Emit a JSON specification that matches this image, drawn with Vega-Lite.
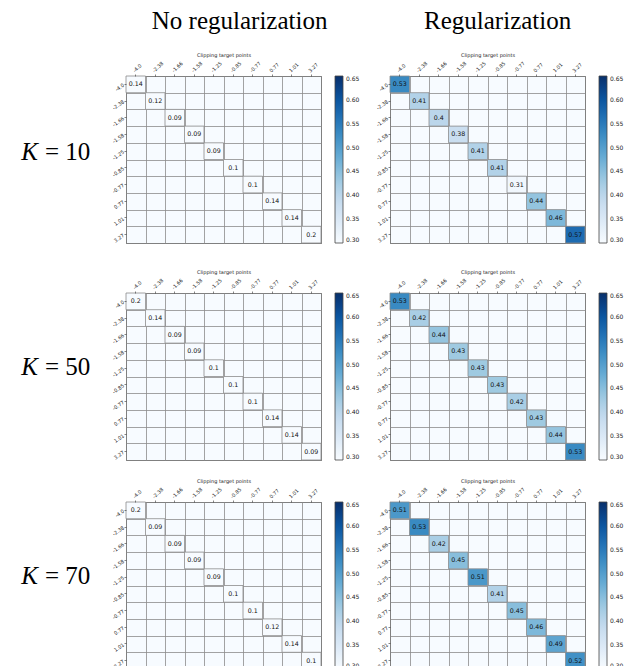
{
  "$schema": "https://vega.github.io/schema/vega-lite/v6.json",
  "background": "white",
  "padding": {"top": 8, "left": 0, "right": 0, "bottom": 0},
  "datasets": {
    "cells": [
      {"K": 10, "reg": "no", "x": "-4.0", "y": "-4.0", "v": 0.14},
      {"K": 10, "reg": "no", "x": "-2.38", "y": "-2.38", "v": 0.12},
      {"K": 10, "reg": "no", "x": "-1.66", "y": "-1.66", "v": 0.09},
      {"K": 10, "reg": "no", "x": "-1.58", "y": "-1.58", "v": 0.09},
      {"K": 10, "reg": "no", "x": "-1.25", "y": "-1.25", "v": 0.09},
      {"K": 10, "reg": "no", "x": "-0.85", "y": "-0.85", "v": 0.1},
      {"K": 10, "reg": "no", "x": "-0.77", "y": "-0.77", "v": 0.1},
      {"K": 10, "reg": "no", "x": "0.77", "y": "0.77", "v": 0.14},
      {"K": 10, "reg": "no", "x": "1.01", "y": "1.01", "v": 0.14},
      {"K": 10, "reg": "no", "x": "3.27", "y": "3.27", "v": 0.2},
      {"K": 10, "reg": "yes", "x": "-4.0", "y": "-4.0", "v": 0.53},
      {"K": 10, "reg": "yes", "x": "-2.38", "y": "-2.38", "v": 0.41},
      {"K": 10, "reg": "yes", "x": "-1.66", "y": "-1.66", "v": 0.4},
      {"K": 10, "reg": "yes", "x": "-1.58", "y": "-1.58", "v": 0.38},
      {"K": 10, "reg": "yes", "x": "-1.25", "y": "-1.25", "v": 0.41},
      {"K": 10, "reg": "yes", "x": "-0.85", "y": "-0.85", "v": 0.41},
      {"K": 10, "reg": "yes", "x": "-0.77", "y": "-0.77", "v": 0.31},
      {"K": 10, "reg": "yes", "x": "0.77", "y": "0.77", "v": 0.44},
      {"K": 10, "reg": "yes", "x": "1.01", "y": "1.01", "v": 0.46},
      {"K": 10, "reg": "yes", "x": "3.27", "y": "3.27", "v": 0.57},
      {"K": 50, "reg": "no", "x": "-4.0", "y": "-4.0", "v": 0.2},
      {"K": 50, "reg": "no", "x": "-2.38", "y": "-2.38", "v": 0.14},
      {"K": 50, "reg": "no", "x": "-1.66", "y": "-1.66", "v": 0.09},
      {"K": 50, "reg": "no", "x": "-1.58", "y": "-1.58", "v": 0.09},
      {"K": 50, "reg": "no", "x": "-1.25", "y": "-1.25", "v": 0.1},
      {"K": 50, "reg": "no", "x": "-0.85", "y": "-0.85", "v": 0.1},
      {"K": 50, "reg": "no", "x": "-0.77", "y": "-0.77", "v": 0.1},
      {"K": 50, "reg": "no", "x": "0.77", "y": "0.77", "v": 0.14},
      {"K": 50, "reg": "no", "x": "1.01", "y": "1.01", "v": 0.14},
      {"K": 50, "reg": "no", "x": "3.27", "y": "3.27", "v": 0.09},
      {"K": 50, "reg": "yes", "x": "-4.0", "y": "-4.0", "v": 0.53},
      {"K": 50, "reg": "yes", "x": "-2.38", "y": "-2.38", "v": 0.42},
      {"K": 50, "reg": "yes", "x": "-1.66", "y": "-1.66", "v": 0.44},
      {"K": 50, "reg": "yes", "x": "-1.58", "y": "-1.58", "v": 0.43},
      {"K": 50, "reg": "yes", "x": "-1.25", "y": "-1.25", "v": 0.43},
      {"K": 50, "reg": "yes", "x": "-0.85", "y": "-0.85", "v": 0.43},
      {"K": 50, "reg": "yes", "x": "-0.77", "y": "-0.77", "v": 0.42},
      {"K": 50, "reg": "yes", "x": "0.77", "y": "0.77", "v": 0.43},
      {"K": 50, "reg": "yes", "x": "1.01", "y": "1.01", "v": 0.44},
      {"K": 50, "reg": "yes", "x": "3.27", "y": "3.27", "v": 0.53},
      {"K": 70, "reg": "no", "x": "-4.0", "y": "-4.0", "v": 0.2},
      {"K": 70, "reg": "no", "x": "-2.38", "y": "-2.38", "v": 0.09},
      {"K": 70, "reg": "no", "x": "-1.66", "y": "-1.66", "v": 0.09},
      {"K": 70, "reg": "no", "x": "-1.58", "y": "-1.58", "v": 0.09},
      {"K": 70, "reg": "no", "x": "-1.25", "y": "-1.25", "v": 0.09},
      {"K": 70, "reg": "no", "x": "-0.85", "y": "-0.85", "v": 0.1},
      {"K": 70, "reg": "no", "x": "-0.77", "y": "-0.77", "v": 0.1},
      {"K": 70, "reg": "no", "x": "0.77", "y": "0.77", "v": 0.12},
      {"K": 70, "reg": "no", "x": "1.01", "y": "1.01", "v": 0.14},
      {"K": 70, "reg": "no", "x": "3.27", "y": "3.27", "v": 0.1},
      {"K": 70, "reg": "yes", "x": "-4.0", "y": "-4.0", "v": 0.51},
      {"K": 70, "reg": "yes", "x": "-2.38", "y": "-2.38", "v": 0.53},
      {"K": 70, "reg": "yes", "x": "-1.66", "y": "-1.66", "v": 0.42},
      {"K": 70, "reg": "yes", "x": "-1.58", "y": "-1.58", "v": 0.45},
      {"K": 70, "reg": "yes", "x": "-1.25", "y": "-1.25", "v": 0.51},
      {"K": 70, "reg": "yes", "x": "-0.85", "y": "-0.85", "v": 0.41},
      {"K": 70, "reg": "yes", "x": "-0.77", "y": "-0.77", "v": 0.45},
      {"K": 70, "reg": "yes", "x": "0.77", "y": "0.77", "v": 0.46},
      {"K": 70, "reg": "yes", "x": "1.01", "y": "1.01", "v": 0.49},
      {"K": 70, "reg": "yes", "x": "3.27", "y": "3.27", "v": 0.52}
    ],
    "rowlabels": [
      {"K": 10, "sym": "K", "rest": "= 10"},
      {"K": 50, "sym": "K", "rest": "= 50"},
      {"K": 70, "sym": "K", "rest": "= 70"}
    ]
  },
  "config": {
    "view": {"stroke": null},
    "axis": {"labelFont": "DejaVu Sans", "titleFont": "DejaVu Sans", "labelColor": "#222", "titleColor": "#222"},
    "legend": {"labelFont": "DejaVu Sans"},
    "text": {"font": "DejaVu Sans"}
  },
  "spacing": 23,
  "resolve": {"scale": {"color": "independent"}, "legend": {"color": "independent"}},
  "vconcat": [
    {
      "bounds": "flush",
      "spacing": 44,
      "resolve": {"scale": {"color": "independent"}, "legend": {"color": "independent"}},
      "hconcat": [
        {
          "width": 82, "height": 167,
          "data": {"name": "rowlabels"},
          "transform": [{"filter": "datum.K == 10"}],
          "layer": [
            {"mark": {"type": "text", "align": "right", "dx": -3, "dy": -8, "baseline": "middle", "font": "Liberation Serif", "fontSize": 25, "fontStyle": "italic", "color": "black"}, "encoding": {"text": {"field": "sym"}}},
            {"mark": {"type": "text", "align": "left", "dx": 4, "dy": -8, "baseline": "middle", "font": "Liberation Serif", "fontSize": 25, "color": "black"}, "encoding": {"text": {"field": "rest"}}}
          ]
        },
        {
          "bounds": "flush",
          "spacing": 69,
          "resolve": {"scale": {"color": "independent"}, "legend": {"color": "independent"}},
          "hconcat": [
            {
              "width": 195, "height": 167,
              "title": {"text": "No regularization", "font": "Liberation Serif", "fontSize": 25, "fontWeight": "normal", "color": "black", "offset": 18, "anchor": "middle", "frame": "bounds", "dx": 4},
              "view": {"fill": "#f7fbff", "stroke": "#555", "strokeWidth": 1},
              "data": {"name": "cells"},
              "transform": [{"filter": "datum.K == 10 && datum.reg == 'no'"}],
              "layer": [
                {"mark": {"type": "rect", "stroke": "#8c8c8c", "strokeWidth": 0.8},
                 "encoding": {
                   "x": {"field": "x", "type": "nominal", "sort": null, "scale": {"paddingInner": 0, "paddingOuter": 0}, "axis": {"orient": "top", "title": "Clipping target points", "titleFontSize": 5, "titleFontWeight": "normal", "titlePadding": 3, "labelAngle": -45, "labelFontSize": 5, "labelPadding": 1, "tickSize": 2, "tickColor": "#333", "tickWidth": 0.6, "grid": false, "domain": false}},
                   "y": {"field": "y", "type": "nominal", "sort": null, "scale": {"paddingInner": 0, "paddingOuter": 0}, "axis": {"orient": "left", "title": null, "labelAngle": -35, "labelFontSize": 5, "labelPadding": 1, "tickSize": 2, "tickColor": "#333", "tickWidth": 0.6, "grid": false, "domain": false}},
                   "color": {"field": "v", "type": "quantitative", "scale": {"domain": [0.3, 0.34375, 0.3875, 0.43125, 0.475, 0.51875, 0.5625, 0.60625, 0.65], "range": ["#f7fbff", "#deebf7", "#c6dbef", "#9ecae1", "#6baed6", "#4292c6", "#2171b5", "#08519c", "#08306b"], "clamp": true},
                     "legend": {"orient": "right", "direction": "vertical", "title": null, "gradientLength": 167, "gradientThickness": 8, "offset": 14, "values": [0.3, 0.35, 0.4, 0.45, 0.5, 0.55, 0.6, 0.65], "format": ".2f", "labelFontSize": 6, "labelOffset": 3, "labelColor": "#222", "gradientStrokeColor": "#444", "gradientStrokeWidth": 0.8}}
                 }},
                {"mark": {"type": "text", "fontSize": 6.3, "color": "#111"},
                 "encoding": {
                   "x": {"field": "x", "type": "nominal", "sort": null, "axis": {"orient": "bottom", "grid": true, "tickBand": "extent", "labels": false, "ticks": false, "domain": false, "title": null, "gridColor": "#8c8c8c", "gridWidth": 0.8, "minExtent": 0}},
                   "y": {"field": "y", "type": "nominal", "sort": null, "axis": {"orient": "right", "grid": true, "tickBand": "extent", "labels": false, "ticks": false, "domain": false, "title": null, "gridColor": "#8c8c8c", "gridWidth": 0.8, "minExtent": 0}},
                   "text": {"field": "v", "type": "quantitative"}
                 }}
              ],
              "resolve": {"axis": {"x": "independent", "y": "independent"}}
            },
            {
              "width": 195, "height": 167,
              "title": {"text": "Regularization", "font": "Liberation Serif", "fontSize": 25, "fontWeight": "normal", "color": "black", "offset": 18, "anchor": "middle", "frame": "bounds", "dx": -2},
              "view": {"fill": "#f7fbff", "stroke": "#555", "strokeWidth": 1},
              "data": {"name": "cells"},
              "transform": [{"filter": "datum.K == 10 && datum.reg == 'yes'"}],
              "layer": [
                {"mark": {"type": "rect", "stroke": "#8c8c8c", "strokeWidth": 0.8},
                 "encoding": {
                   "x": {"field": "x", "type": "nominal", "sort": null, "scale": {"paddingInner": 0, "paddingOuter": 0}, "axis": {"orient": "top", "title": "Clipping target points", "titleFontSize": 5, "titleFontWeight": "normal", "titlePadding": 3, "labelAngle": -45, "labelFontSize": 5, "labelPadding": 1, "tickSize": 2, "tickColor": "#333", "tickWidth": 0.6, "grid": false, "domain": false}},
                   "y": {"field": "y", "type": "nominal", "sort": null, "scale": {"paddingInner": 0, "paddingOuter": 0}, "axis": {"orient": "left", "title": null, "labelAngle": -35, "labelFontSize": 5, "labelPadding": 1, "tickSize": 2, "tickColor": "#333", "tickWidth": 0.6, "grid": false, "domain": false}},
                   "color": {"field": "v", "type": "quantitative", "scale": {"domain": [0.3, 0.34375, 0.3875, 0.43125, 0.475, 0.51875, 0.5625, 0.60625, 0.65], "range": ["#f7fbff", "#deebf7", "#c6dbef", "#9ecae1", "#6baed6", "#4292c6", "#2171b5", "#08519c", "#08306b"], "clamp": true},
                     "legend": {"orient": "right", "direction": "vertical", "title": null, "gradientLength": 167, "gradientThickness": 8, "offset": 14, "values": [0.3, 0.35, 0.4, 0.45, 0.5, 0.55, 0.6, 0.65], "format": ".2f", "labelFontSize": 6, "labelOffset": 3, "labelColor": "#222", "gradientStrokeColor": "#444", "gradientStrokeWidth": 0.8}}
                 }},
                {"mark": {"type": "text", "fontSize": 6.3, "color": "#111"},
                 "encoding": {
                   "x": {"field": "x", "type": "nominal", "sort": null, "axis": {"orient": "bottom", "grid": true, "tickBand": "extent", "labels": false, "ticks": false, "domain": false, "title": null, "gridColor": "#8c8c8c", "gridWidth": 0.8, "minExtent": 0}},
                   "y": {"field": "y", "type": "nominal", "sort": null, "axis": {"orient": "right", "grid": true, "tickBand": "extent", "labels": false, "ticks": false, "domain": false, "title": null, "gridColor": "#8c8c8c", "gridWidth": 0.8, "minExtent": 0}},
                   "text": {"field": "v", "type": "quantitative"}
                 }}
              ],
              "resolve": {"axis": {"x": "independent", "y": "independent"}}
            }
          ]
        }
      ]
    },
    {
      "spacing": 15,
      "resolve": {"scale": {"color": "independent"}, "legend": {"color": "independent"}},
      "vconcat": [
        {
          "bounds": "flush",
          "spacing": 44,
          "resolve": {"scale": {"color": "independent"}, "legend": {"color": "independent"}},
          "hconcat": [
            {
              "width": 82, "height": 167,
              "data": {"name": "rowlabels"},
              "transform": [{"filter": "datum.K == 50"}],
              "layer": [
                {"mark": {"type": "text", "align": "right", "dx": -3, "dy": -10, "baseline": "middle", "font": "Liberation Serif", "fontSize": 25, "fontStyle": "italic", "color": "black"}, "encoding": {"text": {"field": "sym"}}},
                {"mark": {"type": "text", "align": "left", "dx": 4, "dy": -10, "baseline": "middle", "font": "Liberation Serif", "fontSize": 25, "color": "black"}, "encoding": {"text": {"field": "rest"}}}
              ]
            },
            {
              "bounds": "flush",
              "spacing": 69,
              "resolve": {"scale": {"color": "independent"}, "legend": {"color": "independent"}},
              "hconcat": [
                {
                  "width": 195, "height": 167,
                  "view": {"fill": "#f7fbff", "stroke": "#555", "strokeWidth": 1},
                  "data": {"name": "cells"},
                  "transform": [{"filter": "datum.K == 50 && datum.reg == 'no'"}],
                  "layer": [
                    {"mark": {"type": "rect", "stroke": "#8c8c8c", "strokeWidth": 0.8},
                     "encoding": {
                       "x": {"field": "x", "type": "nominal", "sort": null, "scale": {"paddingInner": 0, "paddingOuter": 0}, "axis": {"orient": "top", "title": "Clipping target points", "titleFontSize": 5, "titleFontWeight": "normal", "titlePadding": 3, "labelAngle": -45, "labelFontSize": 5, "labelPadding": 1, "tickSize": 2, "tickColor": "#333", "tickWidth": 0.6, "grid": false, "domain": false}},
                       "y": {"field": "y", "type": "nominal", "sort": null, "scale": {"paddingInner": 0, "paddingOuter": 0}, "axis": {"orient": "left", "title": null, "labelAngle": -35, "labelFontSize": 5, "labelPadding": 1, "tickSize": 2, "tickColor": "#333", "tickWidth": 0.6, "grid": false, "domain": false}},
                       "color": {"field": "v", "type": "quantitative", "scale": {"domain": [0.3, 0.34375, 0.3875, 0.43125, 0.475, 0.51875, 0.5625, 0.60625, 0.65], "range": ["#f7fbff", "#deebf7", "#c6dbef", "#9ecae1", "#6baed6", "#4292c6", "#2171b5", "#08519c", "#08306b"], "clamp": true},
                         "legend": {"orient": "right", "direction": "vertical", "title": null, "gradientLength": 167, "gradientThickness": 8, "offset": 14, "values": [0.3, 0.35, 0.4, 0.45, 0.5, 0.55, 0.6, 0.65], "format": ".2f", "labelFontSize": 6, "labelOffset": 3, "labelColor": "#222", "gradientStrokeColor": "#444", "gradientStrokeWidth": 0.8}}
                     }},
                    {"mark": {"type": "text", "fontSize": 6.3, "color": "#111"},
                     "encoding": {
                       "x": {"field": "x", "type": "nominal", "sort": null, "axis": {"orient": "bottom", "grid": true, "tickBand": "extent", "labels": false, "ticks": false, "domain": false, "title": null, "gridColor": "#8c8c8c", "gridWidth": 0.8, "minExtent": 0}},
                       "y": {"field": "y", "type": "nominal", "sort": null, "axis": {"orient": "right", "grid": true, "tickBand": "extent", "labels": false, "ticks": false, "domain": false, "title": null, "gridColor": "#8c8c8c", "gridWidth": 0.8, "minExtent": 0}},
                       "text": {"field": "v", "type": "quantitative"}
                     }}
                  ],
                  "resolve": {"axis": {"x": "independent", "y": "independent"}}
                },
                {
                  "width": 195, "height": 167,
                  "view": {"fill": "#f7fbff", "stroke": "#555", "strokeWidth": 1},
                  "data": {"name": "cells"},
                  "transform": [{"filter": "datum.K == 50 && datum.reg == 'yes'"}],
                  "layer": [
                    {"mark": {"type": "rect", "stroke": "#8c8c8c", "strokeWidth": 0.8},
                     "encoding": {
                       "x": {"field": "x", "type": "nominal", "sort": null, "scale": {"paddingInner": 0, "paddingOuter": 0}, "axis": {"orient": "top", "title": "Clipping target points", "titleFontSize": 5, "titleFontWeight": "normal", "titlePadding": 3, "labelAngle": -45, "labelFontSize": 5, "labelPadding": 1, "tickSize": 2, "tickColor": "#333", "tickWidth": 0.6, "grid": false, "domain": false}},
                       "y": {"field": "y", "type": "nominal", "sort": null, "scale": {"paddingInner": 0, "paddingOuter": 0}, "axis": {"orient": "left", "title": null, "labelAngle": -35, "labelFontSize": 5, "labelPadding": 1, "tickSize": 2, "tickColor": "#333", "tickWidth": 0.6, "grid": false, "domain": false}},
                       "color": {"field": "v", "type": "quantitative", "scale": {"domain": [0.3, 0.34375, 0.3875, 0.43125, 0.475, 0.51875, 0.5625, 0.60625, 0.65], "range": ["#f7fbff", "#deebf7", "#c6dbef", "#9ecae1", "#6baed6", "#4292c6", "#2171b5", "#08519c", "#08306b"], "clamp": true},
                         "legend": {"orient": "right", "direction": "vertical", "title": null, "gradientLength": 167, "gradientThickness": 8, "offset": 14, "values": [0.3, 0.35, 0.4, 0.45, 0.5, 0.55, 0.6, 0.65], "format": ".2f", "labelFontSize": 6, "labelOffset": 3, "labelColor": "#222", "gradientStrokeColor": "#444", "gradientStrokeWidth": 0.8}}
                     }},
                    {"mark": {"type": "text", "fontSize": 6.3, "color": "#111"},
                     "encoding": {
                       "x": {"field": "x", "type": "nominal", "sort": null, "axis": {"orient": "bottom", "grid": true, "tickBand": "extent", "labels": false, "ticks": false, "domain": false, "title": null, "gridColor": "#8c8c8c", "gridWidth": 0.8, "minExtent": 0}},
                       "y": {"field": "y", "type": "nominal", "sort": null, "axis": {"orient": "right", "grid": true, "tickBand": "extent", "labels": false, "ticks": false, "domain": false, "title": null, "gridColor": "#8c8c8c", "gridWidth": 0.8, "minExtent": 0}},
                       "text": {"field": "v", "type": "quantitative"}
                     }}
                  ],
                  "resolve": {"axis": {"x": "independent", "y": "independent"}}
                }
              ]
            }
          ]
        },
        {
          "bounds": "flush",
          "spacing": 44,
          "resolve": {"scale": {"color": "independent"}, "legend": {"color": "independent"}},
          "hconcat": [
            {
              "width": 82, "height": 167,
              "data": {"name": "rowlabels"},
              "transform": [{"filter": "datum.K == 70"}],
              "layer": [
                {"mark": {"type": "text", "align": "right", "dx": -3, "dy": -10, "baseline": "middle", "font": "Liberation Serif", "fontSize": 25, "fontStyle": "italic", "color": "black"}, "encoding": {"text": {"field": "sym"}}},
                {"mark": {"type": "text", "align": "left", "dx": 4, "dy": -10, "baseline": "middle", "font": "Liberation Serif", "fontSize": 25, "color": "black"}, "encoding": {"text": {"field": "rest"}}}
              ]
            },
            {
              "bounds": "flush",
              "spacing": 69,
              "resolve": {"scale": {"color": "independent"}, "legend": {"color": "independent"}},
              "hconcat": [
                {
                  "width": 195, "height": 167,
                  "view": {"fill": "#f7fbff", "stroke": "#555", "strokeWidth": 1},
                  "data": {"name": "cells"},
                  "transform": [{"filter": "datum.K == 70 && datum.reg == 'no'"}],
                  "layer": [
                    {"mark": {"type": "rect", "stroke": "#8c8c8c", "strokeWidth": 0.8},
                     "encoding": {
                       "x": {"field": "x", "type": "nominal", "sort": null, "scale": {"paddingInner": 0, "paddingOuter": 0}, "axis": {"orient": "top", "title": "Clipping target points", "titleFontSize": 5, "titleFontWeight": "normal", "titlePadding": 3, "labelAngle": -45, "labelFontSize": 5, "labelPadding": 1, "tickSize": 2, "tickColor": "#333", "tickWidth": 0.6, "grid": false, "domain": false}},
                       "y": {"field": "y", "type": "nominal", "sort": null, "scale": {"paddingInner": 0, "paddingOuter": 0}, "axis": {"orient": "left", "title": null, "labelAngle": -35, "labelFontSize": 5, "labelPadding": 1, "tickSize": 2, "tickColor": "#333", "tickWidth": 0.6, "grid": false, "domain": false}},
                       "color": {"field": "v", "type": "quantitative", "scale": {"domain": [0.3, 0.34375, 0.3875, 0.43125, 0.475, 0.51875, 0.5625, 0.60625, 0.65], "range": ["#f7fbff", "#deebf7", "#c6dbef", "#9ecae1", "#6baed6", "#4292c6", "#2171b5", "#08519c", "#08306b"], "clamp": true},
                         "legend": {"orient": "right", "direction": "vertical", "title": null, "gradientLength": 167, "gradientThickness": 8, "offset": 14, "values": [0.3, 0.35, 0.4, 0.45, 0.5, 0.55, 0.6, 0.65], "format": ".2f", "labelFontSize": 6, "labelOffset": 3, "labelColor": "#222", "gradientStrokeColor": "#444", "gradientStrokeWidth": 0.8}}
                     }},
                    {"mark": {"type": "text", "fontSize": 6.3, "color": "#111"},
                     "encoding": {
                       "x": {"field": "x", "type": "nominal", "sort": null, "axis": {"orient": "bottom", "grid": true, "tickBand": "extent", "labels": false, "ticks": false, "domain": false, "title": null, "gridColor": "#8c8c8c", "gridWidth": 0.8, "minExtent": 0}},
                       "y": {"field": "y", "type": "nominal", "sort": null, "axis": {"orient": "right", "grid": true, "tickBand": "extent", "labels": false, "ticks": false, "domain": false, "title": null, "gridColor": "#8c8c8c", "gridWidth": 0.8, "minExtent": 0}},
                       "text": {"field": "v", "type": "quantitative"}
                     }}
                  ],
                  "resolve": {"axis": {"x": "independent", "y": "independent"}}
                },
                {
                  "width": 195, "height": 167,
                  "view": {"fill": "#f7fbff", "stroke": "#555", "strokeWidth": 1},
                  "data": {"name": "cells"},
                  "transform": [{"filter": "datum.K == 70 && datum.reg == 'yes'"}],
                  "layer": [
                    {"mark": {"type": "rect", "stroke": "#8c8c8c", "strokeWidth": 0.8},
                     "encoding": {
                       "x": {"field": "x", "type": "nominal", "sort": null, "scale": {"paddingInner": 0, "paddingOuter": 0}, "axis": {"orient": "top", "title": "Clipping target points", "titleFontSize": 5, "titleFontWeight": "normal", "titlePadding": 3, "labelAngle": -45, "labelFontSize": 5, "labelPadding": 1, "tickSize": 2, "tickColor": "#333", "tickWidth": 0.6, "grid": false, "domain": false}},
                       "y": {"field": "y", "type": "nominal", "sort": null, "scale": {"paddingInner": 0, "paddingOuter": 0}, "axis": {"orient": "left", "title": null, "labelAngle": -35, "labelFontSize": 5, "labelPadding": 1, "tickSize": 2, "tickColor": "#333", "tickWidth": 0.6, "grid": false, "domain": false}},
                       "color": {"field": "v", "type": "quantitative", "scale": {"domain": [0.3, 0.34375, 0.3875, 0.43125, 0.475, 0.51875, 0.5625, 0.60625, 0.65], "range": ["#f7fbff", "#deebf7", "#c6dbef", "#9ecae1", "#6baed6", "#4292c6", "#2171b5", "#08519c", "#08306b"], "clamp": true},
                         "legend": {"orient": "right", "direction": "vertical", "title": null, "gradientLength": 167, "gradientThickness": 8, "offset": 14, "values": [0.3, 0.35, 0.4, 0.45, 0.5, 0.55, 0.6, 0.65], "format": ".2f", "labelFontSize": 6, "labelOffset": 3, "labelColor": "#222", "gradientStrokeColor": "#444", "gradientStrokeWidth": 0.8}}
                     }},
                    {"mark": {"type": "text", "fontSize": 6.3, "color": "#111"},
                     "encoding": {
                       "x": {"field": "x", "type": "nominal", "sort": null, "axis": {"orient": "bottom", "grid": true, "tickBand": "extent", "labels": false, "ticks": false, "domain": false, "title": null, "gridColor": "#8c8c8c", "gridWidth": 0.8, "minExtent": 0}},
                       "y": {"field": "y", "type": "nominal", "sort": null, "axis": {"orient": "right", "grid": true, "tickBand": "extent", "labels": false, "ticks": false, "domain": false, "title": null, "gridColor": "#8c8c8c", "gridWidth": 0.8, "minExtent": 0}},
                       "text": {"field": "v", "type": "quantitative"}
                     }}
                  ],
                  "resolve": {"axis": {"x": "independent", "y": "independent"}}
                }
              ]
            }
          ]
        }
      ]
    }
  ]
}
